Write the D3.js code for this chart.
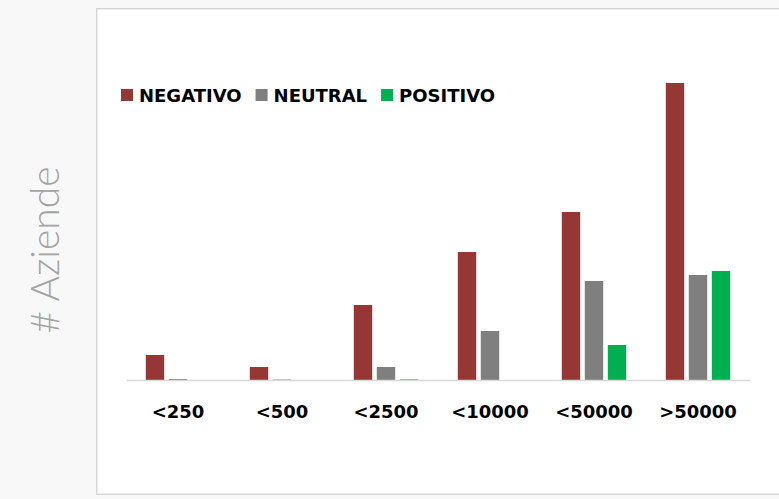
<!DOCTYPE html>
<html><head><meta charset="utf-8">
<script src="https://cdn.jsdelivr.net/npm/d3@7"></script>
<style>html,body{margin:0;padding:0;background:#f8f8f8;}svg{display:block;}</style>
</head><body>
<svg id="c" width="779" height="499"></svg>
<script>
const categories = ["<250", "<500", "<2500", "<10000", "<50000", ">50000"];
const seriesNames = ["NEGATIVO", "NEUTRAL", "POSITIVO"];
const negativo = [25, 13, 75, 128, 168, 297];
const neutral = [1, 0.5, 13, 49, 99, 105];
const positivo = [0, 0, 0.6, 0, 35, 109];
const colors = ["#953735", "#7f7f7f", "#00b050"];
const yTitle = "# Aziende";

const svg = d3.select("#c");
const W = 779, H = 499;
svg.append("rect").attr("width", W).attr("height", H).attr("fill", "#f8f8f8");
// panel
svg.append("rect").attr("x", 96.5).attr("y", 8.5).attr("width", 700).attr("height", 486)
  .attr("fill", "#ffffff").attr("stroke", "#d6d6d6").attr("stroke-width", 1);
svg.append("rect").attr("x", 97.5).attr("y", 9.5).attr("width", 700).attr("height", 484)
  .attr("fill", "none").attr("stroke", "#ececec").attr("stroke-width", 1);

const data = categories.map((c, i) => ({cat: c, vals: [negativo[i], neutral[i], positivo[i]]}));

const x0 = d3.scaleBand().domain(categories).range([126, 750]).padding(0);
const x1 = d3.scaleBand().domain(seriesNames).range([0, x0.bandwidth()]).paddingInner(0.2).paddingOuter(0.86);
const y = d3.scaleLinear().domain([0, 300]).range([380, 80]);

const g = svg.append("g");
g.selectAll("g.grp").data(data).join("g").attr("class", "grp")
  .attr("transform", d => `translate(${x0(d.cat)},0)`)
  .selectAll("rect").data(d => d.vals.map((v, k) => ({s: seriesNames[k], v, k})))
  .join("rect")
  .attr("x", d => x1(d.s)).attr("width", x1.bandwidth())
  .attr("y", d => y(d.v)).attr("height", d => y(0) - y(d.v))
  .attr("fill", d => colors[d.k]);

// x axis
const xAxis = d3.axisBottom(x0).tickSize(0).tickPadding(0);
const ax = svg.append("g").attr("transform", `translate(0,${y(0)})`).call(xAxis);
ax.select(".domain").attr("stroke", "#d9d9d9").attr("stroke-width", 1.3);
ax.selectAll("text").attr("font-family", "DejaVu Sans").attr("font-weight", "bold")
  .attr("font-size", "18px").attr("fill", "#000").attr("dy", null).attr("y", 38);

// y title
svg.append("text").attr("transform", "translate(59,250) rotate(-90)")
  .attr("text-anchor", "middle").attr("font-family", "Lato, 'DejaVu Sans'").attr("font-weight", 300)
  .attr("font-size", "39px").attr("fill", "#a3a3a3").text(yTitle);

// legend
const leg = svg.append("g");
let lx = 121;
seriesNames.forEach((s, k) => {
  leg.append("rect").attr("x", lx).attr("y", 89).attr("width", 12).attr("height", 12).attr("fill", colors[k]);
  const t = leg.append("text").attr("x", lx + 18).attr("y", 101.5)
    .attr("font-family", "DejaVu Sans").attr("font-weight", "bold").attr("font-size", "18px")
    .attr("fill", "#000").text(s);
  lx = lx + 18 + t.node().getComputedTextLength() + 14;
});
</script>
</body></html>
